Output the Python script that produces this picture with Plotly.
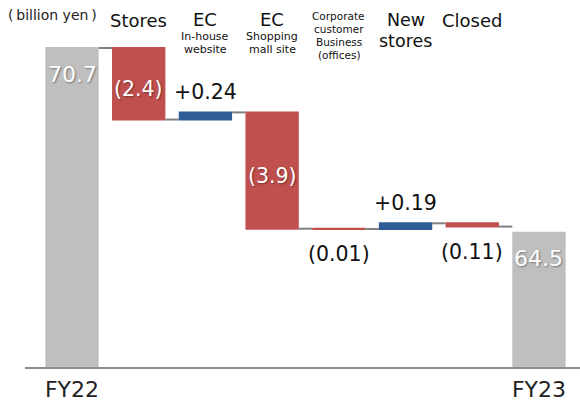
import plotly.graph_objects as go

# Sales bridge FY22 -> FY23 (billion yen)
categories = ["FY22", "Stores", "EC In-house website", "EC Shopping mall site",
              "Corporate customer Business (offices)", "New stores", "Closed", "FY23"]
measures = ["absolute", "relative", "relative", "relative",
            "relative", "relative", "relative", "absolute"]
values = [70.7, -2.4, 0.24, -3.9, -0.01, 0.19, -0.11, 64.5]

# Column headings drawn above the bars: (line text, font size, line centre y in px)
headers = [
    [],
    [("Stores", 18, 20)],
    [("EC", 18, 19.5), ("In-house", 11, 36), ("website", 11, 49)],
    [("EC", 18, 19.5), ("Shopping", 11, 36), ("mall site", 11, 49)],
    [("Corporate", 10.5, 16), ("customer", 10.5, 29), ("Business", 10.5, 42), ("(offices)", 10.5, 55)],
    [("New", 17.5, 20), ("stores", 17.5, 40.5)],
    [("Closed", 18, 20)],
    [],
]
tick_labels = ["FY22", "FY23"]
unit_label = "(\u2009billion yen\u2009)"

FONT = "DejaVu Sans, Verdana, sans-serif"
GRAY, RED, BLUE = "#bfbfbf", "#c0504d", "#2f5d95"

W, H = 580, 405
M_L, M_R, M_T, M_B = 25, 0, 20, 38
plot_h = H - M_T - M_B
plot_w = W - M_L - M_R


def py_to_paper(py):
    return (H - M_B - py) / plot_h


fig = go.Figure(go.Waterfall(
    x=categories,
    y=values,
    measure=measures,
    totals=dict(marker=dict(color=GRAY)),
    increasing=dict(marker=dict(color=BLUE)),
    decreasing=dict(marker=dict(color=RED)),
    connector=dict(mode="between", line=dict(color="#808080", width=2)),
    hoverinfo="skip",
    showlegend=False,
))


def fmt(v, measure):
    if measure == "absolute":
        return f"{v}"
    if v < 0:
        return f"({abs(v)})"
    return f"+{v}"


# value labels
annotations = []
level = 0.0
shadow = "1px 1px 2px rgba(0,0,0,0.4)"
for cat, m, v in zip(categories, measures, values):
    if m == "absolute":
        level = v
        annotations.append(dict(x=cat, y=v, yshift=-26, text=fmt(v, m),
                                font=dict(size=22, color="white", shadow=shadow)))
    else:
        start, end = level, level + v
        level = end
        top, bottom = max(start, end), min(start, end)
        if abs(v) >= 1:
            annotations.append(dict(x=cat, y=(top + bottom) / 2, yshift=-5, text=fmt(v, m),
                                    font=dict(size=20.5, color="white", shadow=shadow)))
        elif v < 0:
            annotations.append(dict(x=cat, y=bottom, yshift=-25, text=fmt(v, m),
                                    font=dict(size=20.5, color="#111111")))
        else:
            annotations.append(dict(x=cat, y=top, yshift=20, text=fmt(v, m),
                                    font=dict(size=20.5, color="#111111")))

for a in annotations:
    a.update(xref="x", yref="y", showarrow=False, xanchor="center", yanchor="middle")

# column headings
for cat, lines in zip(categories, headers):
    for text, size, py in lines:
        annotations.append(dict(x=cat, xref="x", y=py_to_paper(py), yref="paper",
                                text=text, showarrow=False, xanchor="center",
                                yanchor="middle", borderpad=0,
                                font=dict(size=size, color="#111111")))

# unit label in the top-left corner
annotations.append(dict(x=(52 - M_L) / plot_w, xref="paper", y=py_to_paper(15), yref="paper",
                        text=unit_label, showarrow=False, xanchor="center", yanchor="middle",
                        borderpad=0, font=dict(size=14, color="#222222")))

step = 66.71
x_left = -(72 - M_L) / step
x_right = x_left + plot_w / step
y_bottom = 60
y_top = y_bottom + (70.7 - y_bottom) / py_to_paper(48)

fig.update_layout(
    width=W, height=H,
    margin=dict(l=M_L, r=M_R, t=M_T, b=M_B, autoexpand=False),
    paper_bgcolor="white", plot_bgcolor="white",
    font=dict(family=FONT, color="#111111"),
    bargap=0.22,
    annotations=annotations,
    xaxis=dict(
        range=[x_left, x_right],
        automargin=False,
        tickmode="array",
        tickvals=[categories[0], categories[-1]],
        ticktext=tick_labels,
        tickfont=dict(size=22, color="#222222"),
        ticks="",
        ticklabelstandoff=2,
        showline=True, linecolor="#8c8c8c", linewidth=1.5,
        showgrid=False, zeroline=False, fixedrange=True,
    ),
    yaxis=dict(
        range=[y_bottom, y_top],
        automargin=False,
        visible=False, showgrid=False, zeroline=False, fixedrange=True,
    ),
)

fig.write_html("out.html", config={"displayModeBar": False})
